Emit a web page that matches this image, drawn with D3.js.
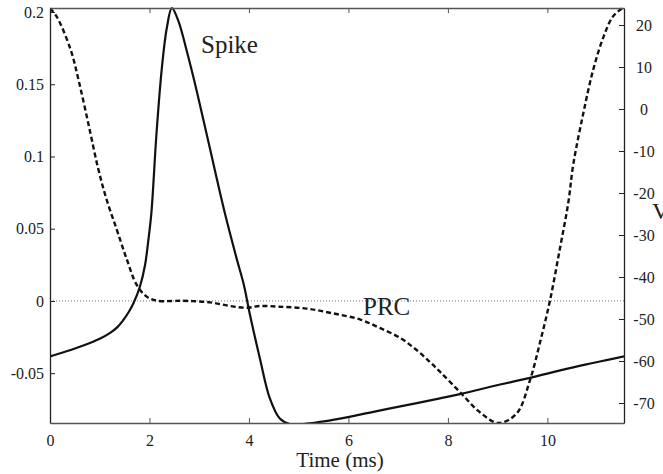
<!DOCTYPE html>
<html>
<head>
<meta charset="utf-8">
<script src="https://cdn.jsdelivr.net/npm/d3@7/dist/d3.min.js"></script>
<style>
  html, body { margin: 0; padding: 0; background: #fff; }
  svg { display: block; font-family: "Liberation Serif", "Times New Roman", serif; }
  svg text { font-family: "Liberation Serif", "Times New Roman", serif; }
</style>
</head>
<body>
<svg id="chart" width="663" height="474"></svg>
<script>
// ---- data ----
const prcTime = [0, 0.135, 0.416, 0.589, 0.784, 0.959, 1.126, 1.341, 1.542, 1.743, 1.944, 2.145, 2.68, 3.22, 3.62, 3.95, 4.22, 4.62, 5.16, 5.69, 6.23, 6.63, 7.04, 7.37, 7.63, 7.84, 8.24, 8.64, 9.01, 9.38, 9.65, 9.85, 10.05, 10.25, 10.42, 10.52, 10.72, 10.92, 11.13, 11.32, 11.54];
const prcValue = [0.2025, 0.1968, 0.1738, 0.1507, 0.1207, 0.093, 0.0715, 0.0495, 0.029, 0.0111, 0.003, 0.0002, 0.0001, -0.001, -0.0035, -0.0047, -0.0035, -0.004, -0.0053, -0.0086, -0.0128, -0.0187, -0.0256, -0.034, -0.042, -0.049, -0.063, -0.077, -0.0845, -0.078, -0.0548, -0.029, 0, 0.036, 0.068, 0.0945, 0.1296, 0.160, 0.183, 0.197, 0.2035];

const spikeTime = [0, 0.3, 0.67, 1.0, 1.21, 1.35, 1.47, 1.58, 1.68, 1.81, 1.91, 1.98, 2.04, 2.14, 2.25, 2.35, 2.45, 2.58, 2.75, 2.95, 3.15, 3.35, 3.52, 3.75, 3.90, 4.02, 4.22, 4.42, 4.62, 4.82, 5.16, 5.83, 6.50, 7.17, 7.84, 8.24, 9.05, 9.65, 10.45, 11.54];
const spikeV = [-58.9, -57.8, -56.3, -54.7, -53.3, -52.0, -50.3, -48.4, -46.2, -42.2, -37.2, -31.0, -24.5, -6, 9.9, 19.4, 24, 21, 13.8, 4.3, -6, -16.4, -25, -35.5, -42, -49, -59.4, -68.9, -73.7, -75.0, -74.9, -73.7, -72.1, -70.5, -68.9, -67.9, -65.6, -64, -61.7, -58.9];

const xTicks = [0, 2, 4, 6, 8, 10];
const xTickLabels = ["0", "2", "4", "6", "8", "10"];
const leftTicks = [-0.05, 0, 0.05, 0.1, 0.15, 0.2];
const leftTickLabels = ["-0.05", "0", "0.05", "0.1", "0.15", "0.2"];
const rightTicks = [-70, -60, -50, -40, -30, -20, -10, 0, 10, 20];
const rightTickLabels = ["-70", "-60", "-50", "-40", "-30", "-20", "-10", "0", "10", "20"];
const xDomain = [0, 11.54];
const leftDomain = [-0.0845, 0.2028];
const rightDomain = [-74.76, 24.05];

// ---- layout ----
const serif = "'Liberation Serif', 'Times New Roman', serif";
const svg = d3.select("#chart");
const L = 50, R = 624, T = 8, B = 423;

const x = d3.scaleLinear().domain(xDomain).range([L, R]);
const yL = d3.scaleLinear().domain(leftDomain).range([B, T]);
const yR = d3.scaleLinear().domain(rightDomain).range([B, T]);

svg.append("defs").append("clipPath").attr("id", "clip")
  .append("rect").attr("x", L).attr("y", T - 1).attr("width", R - L).attr("height", B - T + 1);

// zero dotted line
svg.append("line")
  .attr("x1", L).attr("x2", R).attr("y1", yL(0)).attr("y2", yL(0))
  .attr("stroke", "#777").attr("stroke-width", 1).attr("stroke-dasharray", "1,2");

const g = svg.append("g").attr("clip-path", "url(#clip)");

const prcData = prcTime.map((t, i) => [t, prcValue[i]]);
const spikeData = spikeTime.map((t, i) => [t, spikeV[i]]);

g.append("path")
  .datum(prcData)
  .attr("fill", "none").attr("stroke", "#111").attr("stroke-width", 2.4)
  .attr("stroke-dasharray", "5,3")
  .attr("d", d3.line().x(d => x(d[0])).y(d => yL(d[1])).curve(d3.curveCatmullRom.alpha(0.5)));

g.append("path")
  .datum(spikeData)
  .attr("fill", "none").attr("stroke", "#111").attr("stroke-width", 2.2)
  .attr("d", d3.line().x(d => x(d[0])).y(d => yR(d[1])).curve(d3.curveCatmullRom.alpha(0.5)));

// axes
function styleAxis(sel, color) {
  sel.attr("font-family", serif).attr("font-size", 16);
  sel.select(".domain").attr("stroke", color).attr("stroke-width", 1.3);
  sel.selectAll(".tick line").attr("stroke", color).attr("stroke-width", 1);
  sel.selectAll("text").attr("fill", "#222").attr("font-family", serif).attr("font-size", 16);
}

const xAxis = svg.append("g").attr("transform", `translate(0,${B})`)
  .call(d3.axisBottom(x).tickValues(xTicks).tickFormat((d, i) => xTickLabels[i])
    .tickSizeInner(-5).tickSizeOuter(0).tickPadding(12));
styleAxis(xAxis, "#555");

const xTop = svg.append("g").attr("transform", `translate(0,${T})`)
  .call(d3.axisTop(x).tickValues(xTicks).tickFormat("").tickSizeInner(-5).tickSizeOuter(0));
styleAxis(xTop, "#555");

const yAxisL = svg.append("g").attr("transform", `translate(${L},0)`)
  .call(d3.axisLeft(yL).tickValues(leftTicks).tickFormat((d, i) => leftTickLabels[i])
    .tickSizeInner(-5).tickSizeOuter(0).tickPadding(6));
styleAxis(yAxisL, "#222");

const yAxisR = svg.append("g").attr("transform", `translate(${R},0)`)
  .call(d3.axisRight(yR).tickValues(rightTicks).tickFormat((d, i) => rightTickLabels[i])
    .tickSizeInner(-5).tickSizeOuter(0).tickPadding(20));
styleAxis(yAxisR, "#222");
yAxisR.selectAll("text").attr("text-anchor", "middle");

// labels
svg.append("text").attr("x", (L + R) / 2 + 3).attr("y", 467)
  .attr("text-anchor", "middle").attr("font-family", serif).attr("font-size", 21).attr("fill", "#222")
  .text("Time (ms)");

svg.append("text").attr("x", 201).attr("y", 53)
  .attr("font-family", serif).attr("font-size", 25).attr("fill", "#222").text("Spike");

svg.append("text").attr("x", 363).attr("y", 315)
  .attr("font-family", serif).attr("font-size", 25).attr("fill", "#222").text("PRC");

svg.append("text").attr("x", 652).attr("y", 219)
  .attr("font-family", serif).attr("font-size", 24).attr("fill", "#222").text("V");
</script>
</body>
</html>
